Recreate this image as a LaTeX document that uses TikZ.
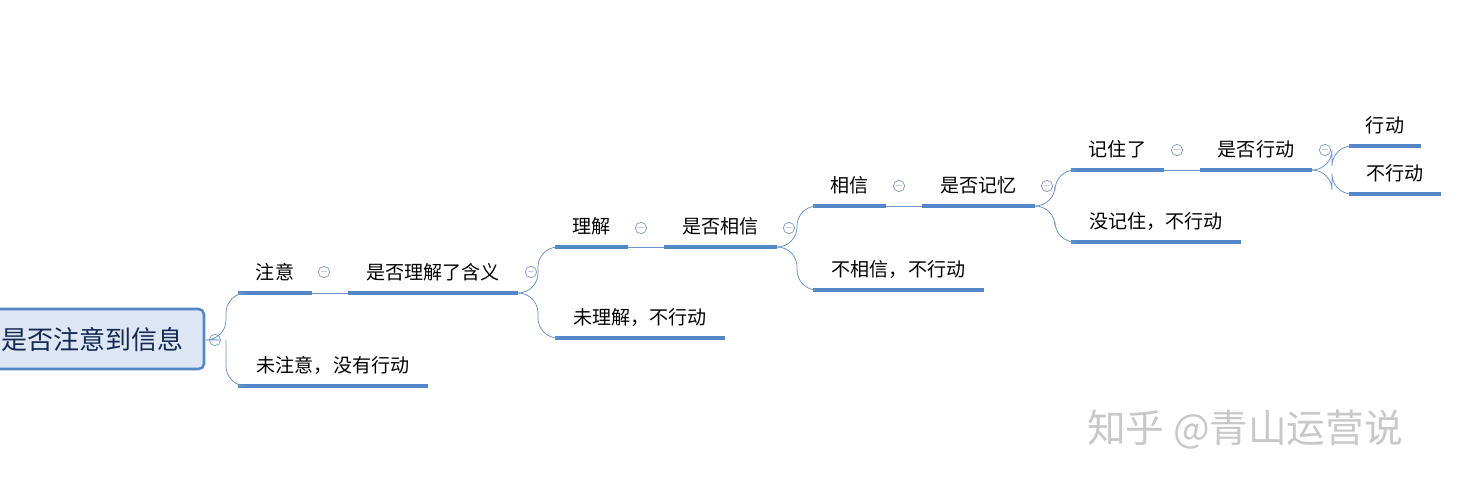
\documentclass[tikz,border=0pt]{standalone}
\usepackage{fontspec}
\setmainfont{Noto Sans CJK SC}
\definecolor{ublue}{RGB}{84,135,200}
\definecolor{cblue}{RGB}{110,150,200}
\definecolor{rfill}{RGB}{220,230,244}
\definecolor{rtext}{RGB}{20,40,80}
\definecolor{colc}{RGB}{120,150,190}
\definecolor{wmc}{RGB}{200,200,200}
\begin{document}
\begin{tikzpicture}[x=0.75pt,y=-0.75pt,
  uline/.style={draw=ublue, line width=2.6pt, line cap=butt},
  conn/.style={draw=cblue, line width=0.6pt},
  txt/.style={font=\fontsize{14.3pt}{16pt}\selectfont, inner sep=0pt, anchor=base},
  col/.style={circle, draw=colc, line width=0.5pt, minimum size=8.5pt, inner sep=0pt, font=\fontsize{7pt}{7pt}\selectfont, text=colc},
  br/.style={conn, rounded corners=15pt}]
\useasboundingbox (0,0) rectangle (1461,490);
\newcommand{\topic}[5]{%
  \coordinate (#1-l) at (#2,#4); \coordinate (#1-r) at (#3,#4);
  \node[txt] (#1) at ({(#2+#3)/2},{#4-14}) {#5};
  \draw[uline] (#1-l) -- (#1-r);}
\newcommand{\colp}[3]{\node[col] (#1) at (#2,#3) {$-$};}
% root
\node[draw=ublue, line width=1.9pt, fill=rfill, rounded corners=4pt, minimum width=168pt, minimum height=45pt, inner sep=0pt] (root) at (92,339) {};
\node[font=\fontsize{19.5pt}{21pt}\selectfont, text=rtext, inner sep=0pt] (rt) at (93,340) {是否注意到信息};
\colp{c0}{215}{340}
\topic{a1}{238}{312}{293}{注意}
\colp{c1}{324}{272}
\topic{a2}{348}{518}{293}{是否理解了含义}
\colp{c2}{531}{272}
\topic{a3}{238}{428}{386}{未注意，没有行动}
\topic{b1}{555}{628}{247}{理解}
\colp{c3}{641}{228}
\topic{b2}{664}{777}{247}{是否相信}
\colp{c4}{789}{228}
\topic{b3}{555}{725}{338}{未理解，不行动}
\topic{d1}{813}{886}{206}{相信}
\colp{c5}{899}{186}
\topic{d2}{922}{1035}{206}{是否记忆}
\colp{c6}{1047}{186}
\topic{d3}{813}{984}{290}{不相信，不行动}
\topic{e1}{1071}{1164}{170}{记住了}
\colp{c7}{1177}{150}
\topic{e2}{1200}{1312}{170}{是否行动}
\colp{c8}{1325}{150}
\topic{e3}{1071}{1241}{242}{没记住，不行动}
\topic{f1}{1349}{1421}{146}{行动}
\topic{f2}{1349}{1441}{194}{不行动}
% connectors
\draw[conn] (a1-r) -- (a2-l);
\draw[conn] (b1-r) -- (b2-l);
\draw[conn] (d1-r) -- (d2-l);
\draw[conn] (e1-r) -- (e2-l);
\coordinate (j0) at (226,340);
\draw[br] (c0.east) -- (j0) |- (a1-l);
\draw[br] (j0) |- (a3-l);
\draw[br] (a2-r) -| ([xshift=15pt]a2-r |- b1-l) -- (b1-l);
\draw[br] (a2-r) -| ([xshift=15pt]a2-r |- b3-l) -- (b3-l);
\draw[br] (b2-r) -| ([xshift=15pt]b2-r |- d1-l) -- (d1-l);
\draw[br] (b2-r) -| ([xshift=15pt]b2-r |- d3-l) -- (d3-l);
\draw[br] (d2-r) -| ([xshift=15pt]d2-r |- e1-l) -- (e1-l);
\draw[br] (d2-r) -| ([xshift=15pt]d2-r |- e3-l) -- (e3-l);
\draw[br] (e2-r) -| ([xshift=15pt]e2-r |- f1-l) -- (f1-l);
\draw[br] (e2-r) -| ([xshift=15pt]e2-r |- f2-l) -- (f2-l);
% watermark
\node[font=\fontsize{29pt}{32pt}\selectfont, text=wmc, inner sep=0pt] (wm) at (1245,430) {知乎 @青山运营说};
\end{tikzpicture}
\end{document}
